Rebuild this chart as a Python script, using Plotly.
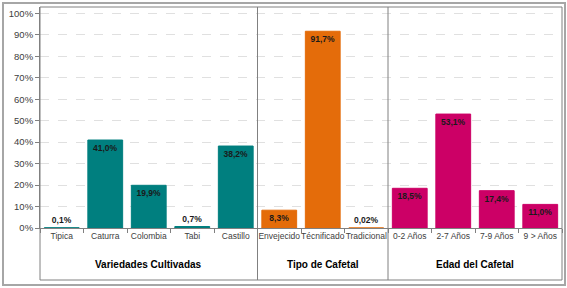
import plotly.graph_objects as go

categories = ["Tipica", "Caturra", "Colombia", "Tabi", "Castillo",
              "Envejecido", "Técnificado", "Tradicional",
              "0-2 Años", "2-7 Años", "7-9 Años", "9 > Años"]
values = [0.1, 41.0, 19.9, 0.7, 38.2,
          8.3, 91.7, 0.02,
          18.5, 53.1, 17.4, 11.0]
group_names = ["Variedades Cultivadas", "Tipo de Cafetal", "Edad del Cafetal"]
group_sizes = [5, 3, 4]
group_colors = ["#007F7F", "#E46C0A", "#CC0066"]

colors = []
for c, n in zip(group_colors, group_sizes):
    colors += [c] * n

def fmt(v):
    s = f"{v:.2f}" if v < 0.05 else f"{v:.1f}"
    return s.replace(".", ",") + "%"

texts = [fmt(v) for v in values]
positions = ["inside" if v >= 5 else "outside" for v in values]

FONT = "Liberation Sans, Arial, sans-serif"

fig = go.Figure()
fig.add_trace(go.Bar(
    x=categories, y=[v / 100 for v in values],
    marker=dict(color=colors, line=dict(color=colors, width=1)),
    text=texts, textposition=positions, insidetextanchor="end",
    textfont=dict(family=FONT, size=8.5, color="#1a1a1a", weight="bold"),
    cliponaxis=False, hoverinfo="skip",
))

W, H = 567, 288
L, R, T, B = 40, 5, 7, 60
pw, ph = W - L - R, H - T - B

def px_to_paper_x(px):
    return (px - L) / pw

def px_to_paper_y(py):
    return (H - B - py) / ph

shapes = []
# outer chart border
shapes.append(dict(type="rect", xref="paper", yref="paper",
                   x0=px_to_paper_x(3), x1=px_to_paper_x(565),
                   y0=px_to_paper_y(285), y1=px_to_paper_y(3),
                   line=dict(color="#a6a6a6", width=2), layer="below"))
# inner box
box_bottom = px_to_paper_y(280)
shapes.append(dict(type="rect", xref="paper", yref="paper",
                   x0=0, x1=1, y0=box_bottom, y1=1,
                   line=dict(color="#808080", width=1)))
# group dividers and titles
annotations = []
start = 0
for i, (name, n) in enumerate(zip(group_names, group_sizes)):
    if i > 0:
        shapes.append(dict(type="line", xref="x", yref="paper",
                           x0=start - 0.5, x1=start - 0.5, y0=box_bottom, y1=1,
                           line=dict(color="#808080", width=1)))
    annotations.append(dict(xref="x", yref="paper", x=start + (n - 1) / 2,
                            y=px_to_paper_y(264), text=f"<b>{name}</b>",
                            showarrow=False, yanchor="middle",
                            font=dict(family=FONT, size=10, color="#000000")))
    start += n

fig.update_layout(
    width=W, height=H,
    margin=dict(l=L, r=R, t=T, b=B),
    paper_bgcolor="white", plot_bgcolor="white",
    bargap=0.2, showlegend=False,
    shapes=shapes, annotations=annotations,
    font=dict(family=FONT),
)
fig.update_xaxes(
    type="category", range=[-0.5, len(categories) - 0.5],
    tickson="boundaries", ticks="outside", ticklen=4, tickcolor="#808080",
    showline=True, linecolor="#808080", linewidth=1,
    showgrid=False, tickangle=0,
    tickfont=dict(family=FONT, size=8.5, color="#404040"),
)
fig.update_yaxes(
    range=[0, 1.03], tickvals=[i / 10 for i in range(11)], tickformat=".0%",
    ticks="outside", ticklen=4, tickcolor="#808080",
    showline=True, linecolor="#808080", linewidth=1,
    showgrid=True, gridcolor="#e0e0e0", griddash="dash", gridwidth=1,
    zeroline=False,
    tickfont=dict(family=FONT, size=9.5, color="#404040"),
)

fig.write_html("out.html", config={"displayModeBar": False},
               post_script="document.body.style.margin='0';document.body.style.overflow='hidden';")
